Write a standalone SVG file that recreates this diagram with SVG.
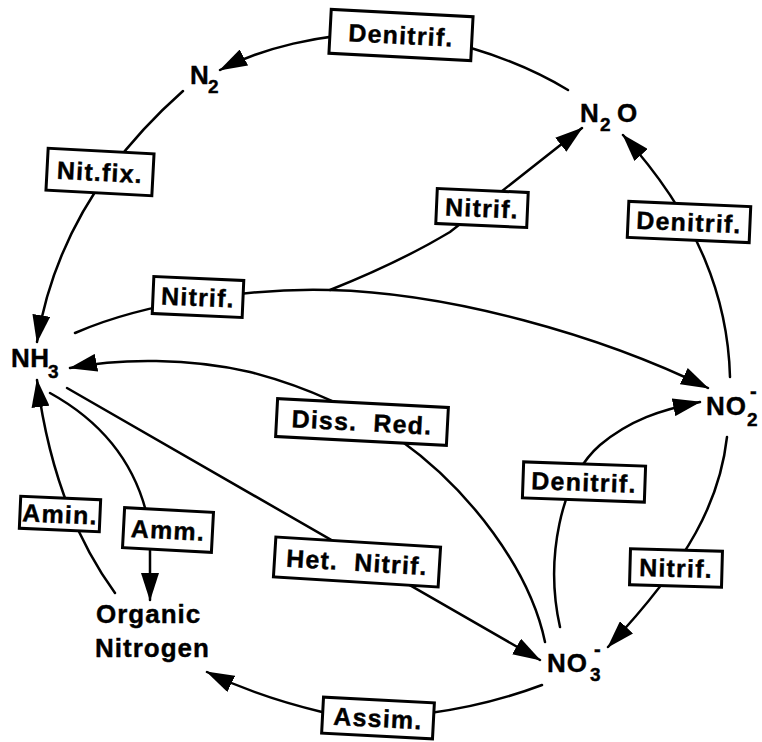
<svg xmlns="http://www.w3.org/2000/svg" width="762" height="742" viewBox="0 0 762 742">
<style>
  .c { fill: none; stroke: #000; stroke-width: 2.5; stroke-linecap: round; }
  .box rect { fill: #fff; stroke: #000; stroke-width: 3; }
  .box text { font-family: "Liberation Sans", Arial, sans-serif; font-weight: bold; font-size: 25px; letter-spacing: 1.2px; text-anchor: middle; fill: #000; stroke: #000; stroke-width: 0.4; }
  .node text { font-family: "Liberation Sans", Arial, sans-serif; font-weight: bold; font-size: 26px; fill: #000; stroke: #000; stroke-width: 0.4; }
  .node .sub { font-size: 19px; }
  .node .sup { font-size: 20px; }
</style>
<defs>
  <marker id="ah" viewBox="0 0 28 18" refX="27" refY="9" markerWidth="28" markerHeight="18" markerUnits="userSpaceOnUse" orient="auto">
    <path d="M0,0 L28,9 L0,18 z" fill="#000"/>
  </marker>
</defs>
<rect width="762" height="742" fill="#fff"/>

<g id="connectors">
  <path id="e-n2o-n2" class="c" d="M568,90 C510,55 430,32 380,33 C320,34 262,48 220,70" marker-end="url(#ah)"/>
  <path id="e-n2-nh3" class="c" d="M183,91 Q60,200 37,342" marker-end="url(#ah)"/>
  <path id="e-nh3-no2" class="c" d="M75,333 C150,300 260,288 330,290 C450,293 600,335 708,388" marker-end="url(#ah)"/>
  <path id="e-nh3-n2o" class="c" d="M330,290 Q400,262 450,232 L582,128" marker-end="url(#ah)"/>
  <path id="e-no2-n2o" class="c" d="M730,377 C728,300 700,220 623,135" marker-end="url(#ah)"/>
  <path id="e-no2-no3" class="c" d="M727,437 C720,500 690,560 608,647" marker-end="url(#ah)"/>
  <path id="e-no3-no2" class="c" d="M560,627 C545,560 560,480 600,445 C630,420 660,410 700,402" marker-end="url(#ah)"/>
  <path id="e-no3-nh3" class="c" d="M545,642 C530,570 470,490 400,440 C350,405 300,385 250,372 C190,358 120,358 70,368" marker-end="url(#ah)"/>
  <path id="e-nh3-no3" class="c" d="M67,388 L540,660" marker-end="url(#ah)"/>
  <path id="e-nh3-org" class="c" d="M50,393 Q135,440 150,530 L150,600" marker-end="url(#ah)"/>
  <path id="e-org-nh3" class="c" d="M115,593 C80,545 50,480 37,380" marker-end="url(#ah)"/>
  <path id="e-no3-org" class="c" d="M542,685 C470,712 380,725 322,712 C280,702 240,688 207,672" marker-end="url(#ah)"/>

  <g class="box" id="lbl-denitrif-top" transform="translate(401,35) rotate(3)">
    <rect x="-71" y="-22" width="142" height="44"/><text x="0" y="9">Denitrif.</text>
  </g>
  <g class="box" id="lbl-nitfix" transform="translate(100,172) rotate(3)">
    <rect x="-53" y="-21" width="106" height="42"/><text x="0" y="9">Nit.fix.</text>
  </g>
  <g class="box" id="lbl-nitrif-left" transform="translate(198,297) rotate(2.5)">
    <rect x="-45" y="-18.5" width="90" height="37"/><text x="0" y="9">Nitrif.</text>
  </g>
  <g class="box" id="lbl-nitrif-mid" transform="translate(482,208) rotate(2.5)">
    <rect x="-45.5" y="-17.5" width="91" height="35"/><text x="0" y="9">Nitrif.</text>
  </g>
  <g class="box" id="lbl-denitrif-right" transform="translate(689,222) rotate(2.5)">
    <rect x="-61" y="-18" width="122" height="36"/><text x="0" y="9">Denitrif.</text>
  </g>
  <g class="box" id="lbl-dissred" transform="translate(362,422) rotate(3)">
    <rect x="-85.5" y="-19" width="171" height="38"/><text x="0" y="9" word-spacing="8">Diss. Red.</text>
  </g>
  <g class="box" id="lbl-denitrif-mid" transform="translate(584,482) rotate(2)">
    <rect x="-61" y="-18" width="122" height="36"/><text x="0" y="9">Denitrif.</text>
  </g>
  <g class="box" id="lbl-nitrif-right" transform="translate(676,568) rotate(1.5)">
    <rect x="-46" y="-18" width="92" height="36"/><text x="0" y="9">Nitrif.</text>
  </g>
  <g class="box" id="lbl-hetnitrif" transform="translate(357,562) rotate(3.5)">
    <rect x="-82.5" y="-20" width="165" height="40"/><text x="0" y="9" word-spacing="8">Het. Nitrif.</text>
  </g>
  <g class="box" id="lbl-amm" transform="translate(168,530) rotate(3)">
    <rect x="-44.5" y="-20" width="89" height="40"/><text x="0" y="9">Amm.</text>
  </g>
  <g class="box" id="lbl-amin" transform="translate(60,514) rotate(2.5)">
    <rect x="-40" y="-16" width="80" height="32"/><text x="0" y="9">Amin.</text>
  </g>
  <g class="box" id="lbl-assim" transform="translate(378,718) rotate(3)">
    <rect x="-55.5" y="-18" width="111" height="36"/><text x="0" y="9">Assim.</text>
  </g>
</g>

<g id="node-n2" class="node">
  <text x="190" y="84">N</text><text class="sub" x="208" y="93">2</text>
</g>
<g id="node-n2o" class="node">
  <text x="580" y="122">N</text><text class="sub" x="600" y="131">2</text><text x="617" y="122">O</text>
</g>
<g id="node-nh3" class="node">
  <text x="11" y="367" letter-spacing="0.5">NH</text><text class="sub" x="48" y="378">3</text>
</g>
<g id="node-no2" class="node">
  <text x="706" y="415" letter-spacing="1">NO</text><text class="sub" x="747" y="426">2</text><text class="sup" x="750" y="398">-</text>
</g>
<g id="node-no3" class="node">
  <text x="547" y="672" letter-spacing="1">NO</text><text class="sub" x="590" y="681">3</text><text class="sup" x="594" y="656">-</text>
</g>
<g id="node-org" class="node">
  <text x="96" y="623" letter-spacing="1">Organic</text>
  <text x="95" y="657" letter-spacing="1">Nitrogen</text>
</g>
</svg>
